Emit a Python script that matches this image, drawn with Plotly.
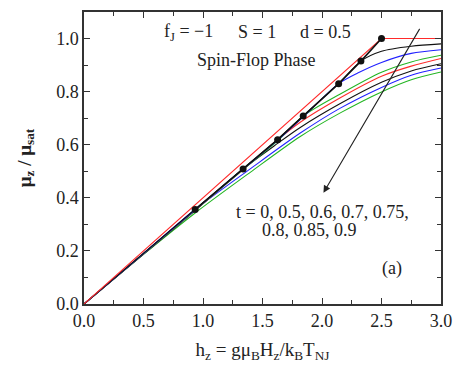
import plotly.graph_objects as go

# t = 0 (ground state)
h_t0 = [0.0, 2.5, 3.0]
mu_t0 = [0.0, 1.0, 1.0]

# spin-flop boundary points (filled circles)
dots_h = [0.934, 1.337, 1.627, 1.842, 2.140, 2.327, 2.5]
dots_mu = [0.356, 0.509, 0.619, 0.708, 0.830, 0.915, 1.0]

# finite-temperature curves
h_t05 = [0.0, 0.934, 1.337, 1.627, 1.842, 2.140, 2.327, 2.5, 2.75, 3.0]
mu_t05 = [0.0, 0.357, 0.510, 0.620, 0.709, 0.830, 0.915, 0.952, 0.971, 0.980]

h_t06 = [0.0, 0.934, 1.337, 1.627, 1.842, 2.140, 2.3, 2.5, 2.75, 3.0]
mu_t06 = [0.0, 0.355, 0.508, 0.617, 0.705, 0.830, 0.870, 0.910, 0.944, 0.958]

h_t07 = [0.0, 0.934, 1.337, 1.627, 1.842, 2.15, 2.5, 2.75, 3.0]
mu_t07 = [0.0, 0.354, 0.506, 0.615, 0.708, 0.790, 0.873, 0.912, 0.937]

h_t075 = [0.0, 0.934, 1.337, 1.627, 1.814, 2.15, 2.5, 2.75, 3.0]
mu_t075 = [0.0, 0.354, 0.506, 0.619, 0.684, 0.776, 0.858, 0.896, 0.925]

h_t08 = [0.0, 0.934, 1.337, 1.6, 1.814, 2.15, 2.5, 2.75, 3.0]
mu_t08 = [0.0, 0.352, 0.509, 0.596, 0.664, 0.754, 0.835, 0.878, 0.905]

h_t085 = [0.0, 0.5, 0.934, 1.4, 1.814, 2.15, 2.5, 2.75, 3.0]
mu_t085 = [0.0, 0.190, 0.356, 0.510, 0.643, 0.737, 0.816, 0.862, 0.889]

h_t09 = [0.0, 0.5, 0.934, 1.4, 1.814, 2.15, 2.5, 2.75, 3.0]
mu_t09 = [0.0, 0.187, 0.343, 0.497, 0.630, 0.719, 0.799, 0.845, 0.874]

x_ticks = [0.0, 0.5, 1.0, 1.5, 2.0, 2.5, 3.0]
y_ticks = [0.0, 0.2, 0.4, 0.6, 0.8, 1.0]

RED = "#ff2a2a"
BLUE = "#2020ff"
GREEN = "#22b522"
BLACK = "#111111"
FONT = "Liberation Serif"

fig = go.Figure()

series = [
    (h_t09, mu_t09, GREEN),
    (h_t085, mu_t085, BLUE),
    (h_t08, mu_t08, BLACK),
    (h_t075, mu_t075, RED),
    (h_t07, mu_t07, GREEN),
    (h_t06, mu_t06, BLUE),
    (h_t05, mu_t05, BLACK),
]
for hx, my, col in series:
    fig.add_trace(go.Scatter(x=hx, y=my, mode="lines",
                             line=dict(color=col, width=1.1, shape="spline", smoothing=0.8),
                             showlegend=False, hoverinfo="skip"))

fig.add_trace(go.Scatter(x=h_t0, y=mu_t0, mode="lines",
                         line=dict(color=RED, width=1.1),
                         showlegend=False, hoverinfo="skip"))

fig.add_trace(go.Scatter(x=dots_h, y=dots_mu, mode="lines+markers",
                         line=dict(color=BLACK, width=1.6),
                         marker=dict(color=BLACK, size=7),
                         showlegend=False, hoverinfo="skip"))

ann_font = dict(family=FONT, size=18, color="#222222")
fig.add_annotation(x=0.653, y=1.023, xref="x", yref="y", text="f<sub>J</sub> = −1",
                   showarrow=False, xanchor="left", yanchor="middle", font=ann_font)
fig.add_annotation(x=1.276, y=1.023, xref="x", yref="y", text="S = 1",
                   showarrow=False, xanchor="left", yanchor="middle", font=ann_font)
fig.add_annotation(x=1.797, y=1.023, xref="x", yref="y", text="d = 0.5",
                   showarrow=False, xanchor="left", yanchor="middle", font=ann_font)
fig.add_annotation(x=0.932, y=0.921, xref="x", yref="y", text="Spin-Flop Phase",
                   showarrow=False, xanchor="left", yanchor="middle", font=ann_font)
fig.add_annotation(x=1.259, y=0.346, xref="x", yref="y", text="t = 0, 0.5, 0.6, 0.7, 0.75,",
                   showarrow=False, xanchor="left", yanchor="middle", font=ann_font)
fig.add_annotation(x=1.478, y=0.279, xref="x", yref="y", text="0.8, 0.85, 0.9",
                   showarrow=False, xanchor="left", yanchor="middle", font=ann_font)
fig.add_annotation(x=2.588, y=0.135, xref="x", yref="y", text="(a)",
                   showarrow=False, xanchor="center", yanchor="middle", font=ann_font)

# arrow
fig.add_annotation(x=2.012, y=0.419, ax=2.828, ay=1.042, xref="x", yref="y",
                   axref="x", ayref="y", text="", showarrow=True,
                   arrowhead=2, arrowsize=1.3, arrowwidth=1.1, arrowcolor="#222222")

axis_common = dict(showline=True, linecolor="#333333", linewidth=1.5, mirror="allticks",
                   ticks="inside", ticklen=6, tickwidth=1.2, tickcolor="#333333",
                   showgrid=False, zeroline=False, automargin=False,
                   tickfont=dict(family=FONT, size=18, color="#222222"))

fig.update_xaxes(range=[0, 3.0], tickvals=x_ticks, ticktext=[f"{v:.1f}" for v in x_ticks],
                 minor=dict(dtick=0.25, ticks="inside", ticklen=4, tickcolor="#333333", showgrid=False),
                 title=dict(text="h<sub>z</sub> = gμ<sub>B</sub>H<sub>z</sub>/k<sub>B</sub>T<sub>NJ</sub>",
                            font=dict(family=FONT, size=19, color="#222222"), standoff=12),
                 **axis_common)
fig.update_yaxes(range=[0, 1.1], tickvals=y_ticks, ticktext=[f"{v:.1f}" for v in y_ticks],
                 minor=dict(dtick=0.1, ticks="inside", ticklen=4, tickcolor="#333333", showgrid=False),
                 title=dict(text="<b>μ<sub>z</sub> / μ<sub>sat</sub></b>",
                            font=dict(family=FONT, size=19, color="#222222"), standoff=20),
                 **axis_common)

fig.update_layout(width=457, height=371, autosize=False,
                  margin=dict(l=84, r=16, t=12, b=67),
                  plot_bgcolor="white", paper_bgcolor="white")

# remove the default page margin so the figure fills the window exactly
fig.write_html("out.html",
               config={"displayModeBar": False, "responsive": False},
               post_script="document.body.style.margin='0';document.body.style.overflow='hidden';")
